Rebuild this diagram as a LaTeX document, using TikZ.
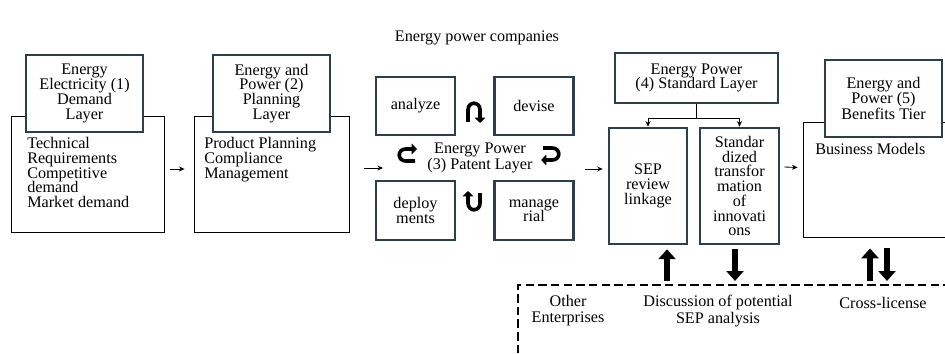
\documentclass[tikz,border=0pt]{standalone}
\usepackage{fontspec}
\setmainfont{Liberation Serif}
\usepackage{xcolor}
\usetikzlibrary{arrows.meta,positioning,calc}
\definecolor{layerblue}{RGB}{44,62,80}

\begin{document}
\begin{tikzpicture}[x=0.025cm, y=-0.025cm,
    every node/.style={font=\fontsize{11.5}{10.5}\selectfont, inner sep=0pt},
    layer/.style={draw=layerblue, line width=1.8pt, fill=white, align=center},
    frame/.style={draw=black, line width=0.6pt},
    flow/.style={-{Stealth[length=4pt,width=3.6pt]}, line width=0.6pt},
    bigflow/.style={line width=4pt, -{Triangle[length=7pt,width=12pt]}},
    turn/.style={line width=2.6pt, -{Triangle[length=3.8pt,width=7.5pt]}}]
    \useasboundingbox (0,0) rectangle (945,354);
    \clip (0,0) rectangle (945,354);

    % (1) Demand layer
    \node[frame, minimum width=3.825cm, minimum height=2.9cm] (dem) at (87.5,174) {};
    \node[layer, minimum width=2.925cm, minimum height=1.925cm] (demt) at (84.5,93.5) {Energy\\Electricity (1)\\Demand\\Layer};
    \node[anchor=north west, align=left] (demtx) at (27,137) {Technical\\Requirements\\Competitive\\demand\\Market demand};

    % (2) Planning layer
    \node[frame, minimum width=3.875cm, minimum height=2.9cm] (pla) at (271.5,174) {};
    \node[layer, minimum width=2.925cm, minimum height=1.925cm] (plat) at (271.5,93.5) {Energy and\\Power (2)\\Planning\\Layer};
    \node[anchor=north west, align=left] (platx) at (204,137) {Product Planning\\Compliance\\Management};

    \draw[flow] ($(dem.east)+(6,-5)$) -- ($(pla.west)+(-9,-5)$);

    % (3) Patent layer
    \node (comp) at (477,38) {Energy power companies};
    \node[layer, line width=1.6pt, minimum width=1.975cm, minimum height=1.45cm] (ana) at (415.5,106) {analyze};
    \node[layer, line width=1.6pt, minimum width=1.975cm, minimum height=1.45cm] (dev) at (534,106) {devise};
    \node[layer, line width=1.6pt, minimum width=1.975cm, minimum height=1.475cm] (dep) at (415.5,210.5) {deploy\\ments};
    \node[layer, line width=1.6pt, minimum width=1.975cm, minimum height=1.475cm] (man) at (534,210.5) {manage\\rial};
    \node[align=center, font=\fontsize{11.5}{12}\selectfont] (pat) at (480,158) {Energy Power\\(3) Patent Layer};

    % cycle marks
    \draw[turn] (468,122) -- (468,110) .. controls (468,101) and (480,101) .. (480,110) -- (480,123);
    \draw[turn] (543,148) -- (552,148) .. controls (561,148) and (561,160) .. (552,160) -- (541,160);
    \draw[turn] (480,193) -- (480,203) .. controls (480,212) and (468,212) .. (468,203) -- (468,191);
    \draw[turn] (415,161) -- (406,161) .. controls (397,161) and (397,149) .. (406,149) -- (417,149);

    % (4) Standard layer
    \node[layer, minimum width=4.075cm, minimum height=1.25cm] (std) at (696.5,78) {Energy Power\\(4) Standard Layer};
    \node[layer, minimum width=1.95cm, minimum height=2.9cm] (sep) at (648,186) {SEP\\review\\linkage};
    \node[layer, minimum width=1.975cm, minimum height=2.9cm] (sdz) at (739.5,186) {Standar\\dized\\transfor\\mation\\of\\innovati\\ons};
    \draw[line width=0.6pt] (std.south) -- ++(0,14) coordinate (fork);
    \draw[flow] (fork) -| (sep.north);
    \draw[flow] (fork) -| (sdz.north);

    \coordinate (pin) at (383,168);
    \coordinate (pout) at (585,169);
    \draw[flow] ($(pla.east)+(15,-6)$) -- (pin);
    \draw[flow] (pout) -- ($(sep.west)+(-5,-17)$);

    % (5) Benefits tier
    \node[frame, minimum width=4cm, minimum height=2.875cm] (ben) at (883,179.5) {};
    \node[layer, minimum width=2.925cm, minimum height=1.925cm] (bent) at (883.5,98.5) {Energy and\\Power (5)\\Benefits Tier};
    \node[anchor=north west] (bentx) at (815,143) {Business Models};
    \draw[flow] ($(sdz.east)+(4,-19)$) -- ($(ben.west)+(-5,-12)$);

    % Other enterprises
    \node[draw, line width=1.5pt, dash pattern=on 6pt off 3pt, minimum width=12.05cm, minimum height=2.875cm] (oth) at (759,342.5) {};
    \node[align=center, font=\fontsize{11.5}{11.5}\selectfont] (othe) at (568,311) {Other\\Enterprises};
    \node[align=center, font=\fontsize{11.5}{11.5}\selectfont] (disc) at (718,311) {Discussion of potential\\SEP analysis};
    \node (cross) at (883,303) {Cross-license};

    \coordinate (up1) at (667,0);
    \coordinate (dn1) at (735,0);
    \coordinate (up2) at (870,0);
    \coordinate (dn2) at (887,0);
    \draw[bigflow, shorten <=0.075cm, shorten >=0.1cm] (up1 |- oth.north) -- (up1 |- sep.south);
    \draw[bigflow, shorten <=0.1cm, shorten >=0.075cm] (dn1 |- sdz.south) -- (dn1 |- oth.north);
    \draw[bigflow, shorten <=0.075cm, shorten >=0.275cm] (up2 |- oth.north) -- (up2 |- ben.south);
    \draw[bigflow, shorten <=0.275cm, shorten >=0.075cm] (dn2 |- ben.south) -- (dn2 |- oth.north);
\end{tikzpicture}
\end{document}
